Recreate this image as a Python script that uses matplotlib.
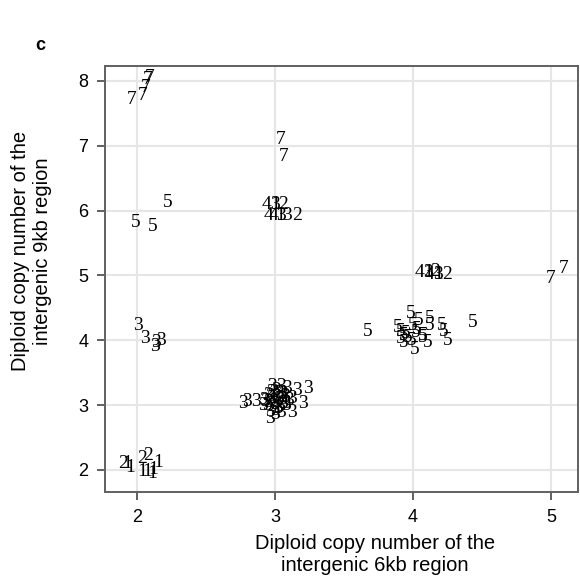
import matplotlib
matplotlib.use("Agg")
import matplotlib.pyplot as plt

plt.rcParams['font.family'] = ['Liberation Sans', 'DejaVu Sans']

# copy number estimates (6kb region, 9kb region) and group label of each sample
x_6kb = [
    # group 7
    1.96, 2.04, 2.06, 2.08, 2.09, 3.04, 3.06, 5.00, 5.09,
    # group 5 upper left
    2.22, 1.99, 2.11,
    # groups 4/1/3/2 near (3, 6)
    2.94, 3.00, 3.00, 3.06, 2.95, 2.99, 3.04, 3.04, 3.09, 3.16,
    # groups 4/1/3/2 near (4, 5)
    4.05, 4.11, 4.11, 4.16, 4.12, 4.18, 4.18, 4.25,
    # group 5 cluster near (4, 4)
    3.98, 3.67, 4.43, 3.91, 3.89, 3.93, 3.96, 4.00, 4.03, 4.04, 4.07,
    4.12, 4.12, 4.11, 4.01, 4.21, 4.22, 4.25, 3.93, 3.99, 4.07, 3.91,
    3.95, 4.02,
    # group 3 near (2, 4)
    2.01, 2.06, 2.14, 2.17, 2.13,
    # group 3 cluster near (3, 3)
    2.77, 2.80, 2.86, 3.24, 3.20, 3.12, 2.96, 2.98, 3.04, 3.09, 3.16,
    2.95, 2.97, 2.99, 3.01, 3.03, 3.05, 3.07, 2.94, 2.98, 3.02, 3.06,
    3.10, 2.96, 3.00, 3.04, 3.08, 3.12, 2.97, 3.01, 3.05, 2.93, 3.00,
    2.92, 2.96, 3.00, 3.03, 3.06, 2.99, 3.02, 2.95, 3.08, 2.91,
    # groups 1/2 near (2, 2)
    1.90, 1.93, 1.95, 2.04, 2.08, 2.04, 2.07, 2.11, 2.15, 2.12,
]
y_9kb = [
    7.71, 7.77, 7.90, 8.02, 8.06, 7.09, 6.83, 4.96, 5.11,
    6.12, 5.82, 5.75,
    6.10, 6.10, 6.10, 6.10, 5.92, 5.92, 5.92, 5.92, 5.92, 5.92,
    5.05, 5.05, 5.05, 5.06, 5.01, 5.01, 5.01, 5.01,
    4.42, 4.13, 4.27, 4.13, 4.20, 4.08, 4.05, 4.23, 4.16, 4.30, 4.08,
    4.34, 4.23, 3.97, 3.85, 4.23, 4.13, 4.00, 3.97, 4.00, 4.05, 4.03,
    4.10, 4.12,
    4.23, 4.03, 3.96, 4.00, 3.90,
    3.03, 3.05, 3.05, 3.26, 3.03, 2.89, 2.80, 3.28, 3.28, 3.26, 3.23,
    3.15, 3.10, 3.05, 3.12, 3.18, 3.08, 3.14, 3.00, 2.98, 2.95, 3.02,
    3.07, 2.90, 2.92, 2.88, 2.99, 3.10, 3.20, 3.22, 3.18, 3.06, 2.85,
    3.07, 3.13, 3.01, 3.09, 3.16, 3.20, 2.96, 3.04, 3.02, 3.00,
    2.10, 2.10, 2.04, 2.18, 2.23, 1.97, 1.97, 1.94, 2.12, 2.00,
]
group = (
    ['7'] * 9
    + ['5'] * 3
    + ['4', '1', '3', '2', '4', '4', '1', '3', '3', '2']
    + ['4', '1', '3', '2', '4', '1', '3', '2']
    + ['5'] * 24
    + ['3'] * 5
    + ['3'] * 43
    + ['2', '1', '1', '2', '2', '1', '1', '1', '1', '1']
)

xticks = [2, 3, 4, 5]
yticks = [2, 3, 4, 5, 6, 7, 8]

fig = plt.figure(figsize=(5.8, 5.8), dpi=100)
ax = fig.add_axes([105 / 580, 88 / 580, 473 / 580, 426 / 580])

for x, y, g in zip(x_6kb, y_9kb, group):
    ax.text(x, y, g, ha='center', va='center', fontsize=14,
            family='Liberation Serif', color='black')

ax.set_xlim(1.768, 5.196)
ax.set_ylim(1.66, 8.23)
ax.set_xticks(xticks)
ax.set_yticks(yticks)
ax.grid(True, color='#e6e6e6', linewidth=1.5)
ax.set_axisbelow(True)
for s in ax.spines.values():
    s.set_color('#606060')
    s.set_linewidth(1.4)
ax.tick_params(direction='out', length=6, width=1.4, color='#606060',
               labelsize=13, pad=6, labelcolor='black')

ax.set_xlabel('Diploid copy number of the\nintergenic 6kb region', fontsize=14.5)
ax.set_ylabel('Diploid copy number of the\nintergenic 9kb region', fontsize=14.5)
ax.xaxis.set_label_coords(0.571, -0.098)
ax.yaxis.set_label_coords(-0.112, 0.566)

fig.text(35 / 580, 1 - 45 / 580, 'c', fontsize=13, fontweight='bold',
         ha='left', va='center')

fig.savefig('out.png', dpi=100)
